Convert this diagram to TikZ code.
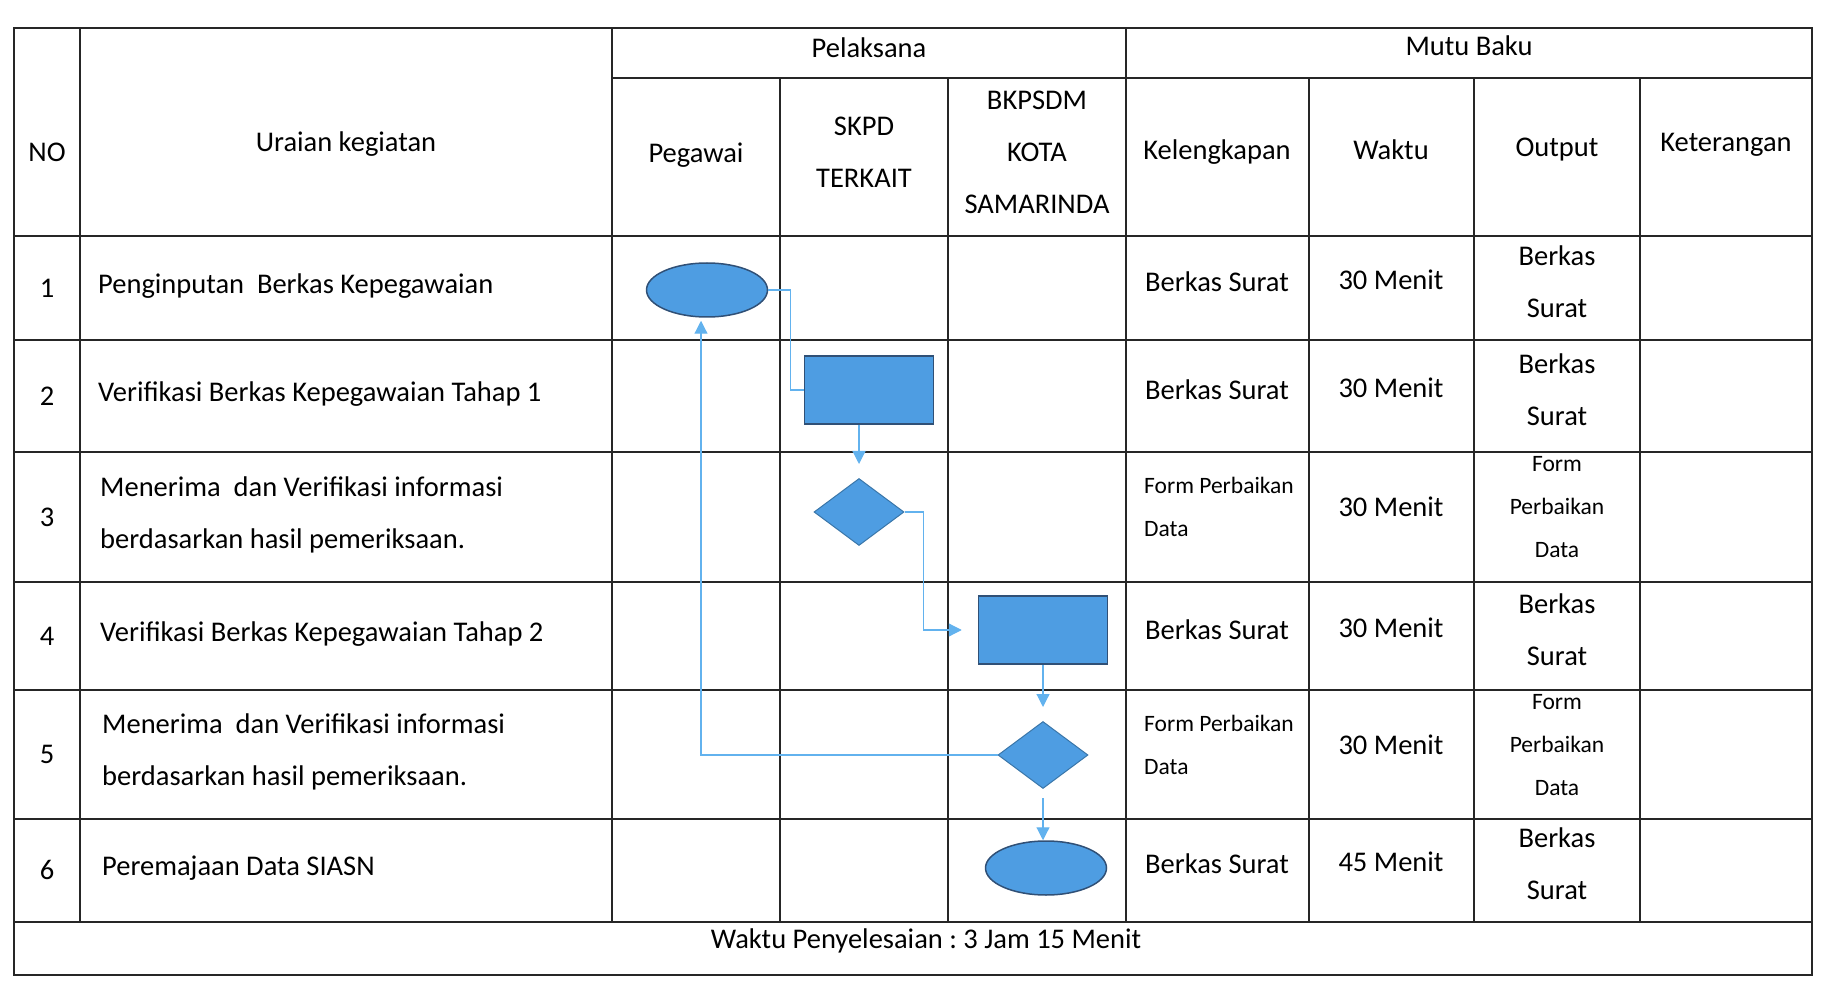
\documentclass[tikz,border=0pt]{standalone}
\usepackage{fontspec}
\setmainfont{Carlito}
\usetikzlibrary{shapes.geometric, positioning, calc, arrows.meta}
\usepackage{xcolor}

\definecolor{shapeblue}{RGB}{78,157,226}
\definecolor{shapeedge}{RGB}{48,80,118}
\definecolor{lineblue}{RGB}{98,178,238}
\frenchspacing

\begin{document}
\begin{tikzpicture}[x=1pt, y=-1pt,
    grid/.style={line width=1.5pt, black!85},
    txt/.style={font=\fontsize{28.5}{52}\selectfont, align=center, inner sep=0pt},
    small/.style={font=\fontsize{23.5}{43}\selectfont, inner sep=0pt},
    proc/.style={rectangle, draw=shapeedge, fill=shapeblue, line width=1.5pt, minimum width=129pt, minimum height=68pt, inner sep=0pt},
    term/.style={ellipse, draw=shapeedge, fill=shapeblue, line width=1.5pt, minimum width=121pt, minimum height=54pt, inner sep=0pt},
    dec/.style={diamond, draw=shapeblue!75!black, fill=shapeblue, line width=1pt, minimum width=90pt, minimum height=67pt, inner sep=0pt},
    flow/.style={lineblue, line width=1.2pt, -{Triangle[length=13pt, width=13pt]}}
  ]
      \useasboundingbox (0,0) rectangle (1821,981);

      % table lines
      \draw[grid] (14,28) rectangle (1812,975);
      \foreach \y in {236,340,452,582,690,819,922}
        \draw[grid] (14,\y) -- (1812,\y);
      \draw[grid] (612,78) -- (1812,78);
      \foreach \x in {80,612,1126}
        \draw[grid] (\x,28) -- (\x,922);
      \foreach \x in {780,948,1309,1474,1640}
        \draw[grid] (\x,78) -- (\x,922);

      % header
      \node[txt] (hNo) at (47,152) {NO};
      \node[txt] (hUraian) at (346,144) {Uraian kegiatan};
      \node[txt] (hPelaksana) at (869,48) {Pelaksana};
      \node[txt] (hMutu) at (1469,46) {Mutu Baku};
      \node[txt] (hPegawai) at (696,155) {Pegawai};
      \node[txt] (hSkpd) at (864,152) {SKPD\\TERKAIT};
      \node[txt] (hBkpsdm) at (1037,152) {BKPSDM\\KOTA\\SAMARINDA};
      \node[txt] (hKeleng) at (1217,152) {Kelengkapan};
      \node[txt] (hWaktu) at (1391,150) {Waktu};
      \node[txt] (hOutput) at (1557,150) {Output};
      \node[txt] (hKet) at (1726,145) {Keterangan};

      % rows
      \foreach \n/\y in {1/288,2/396,3/517,4/636,5/754,6/870}
        \node[txt] (no\n) at (47,\y) {\n};
      \node[txt, anchor=west] (u1) at (98,286) {Penginputan\ \ Berkas Kepegawaian};
      \node[txt, anchor=west] (u2) at (98,394) {Verifikasi Berkas Kepegawaian Tahap 1};
      \node[txt, anchor=west, align=left] (u3) at (100,515) {Menerima\ \ dan Verifikasi informasi\\berdasarkan hasil pemeriksaan.};
      \node[txt, anchor=west] (u4) at (100,634) {Verifikasi Berkas Kepegawaian Tahap 2};
      \node[txt, anchor=west, align=left] (u5) at (102,752) {Menerima\ \ dan Verifikasi informasi\\berdasarkan hasil pemeriksaan.};
      \node[txt, anchor=west] (u6) at (102,868) {Peremajaan Data SIASN};

      % mutu baku
      \foreach \n/\y in {1/282,2/390,4/630,6/864} {
        \node[txt] (k\n) at (1217,\y) {Berkas Surat};
        \node[txt] (o\n) at (1557,\y) {Berkas\\Surat};
      }
      \foreach \n/\y in {3/507,5/745} {
        \node[small, anchor=west, align=left] (k\n) at (1144,\y) {Form Perbaikan\\Data};
        \node[small, align=center] (o\n) at (1557,\y) {Form\\Perbaikan\\Data};
      }
      \foreach \n/\y/\m in {1/280/30,2/388/30,3/507/30,4/628/30,5/745/30,6/862/45}
        \node[txt] (w\n) at (1391,\y) {\m{} Menit};

      \node[txt] (total) at (926,941) {Waktu Penyelesaian : 3 Jam 15 Menit};

      % flow
      \node[term] (e1) at (707,290) {};
      \node[proc] (p2) at (869,390) {};
      \node[dec] (d3) at (859,512) {};
      \node[proc] (p4) at (1043,630) {};
      \node[dec] (d5) at (1043,755) {};
      \node[term] (e6) at (1046,868) {};

      \draw[lineblue, line width=1.2pt] (e1.east) -- ++(22,0) |- (p2.west);
      \draw[flow, shorten >=14pt] (d3.north |- p2.south) -- (d3.north);
      \draw[flow, shorten >=16pt] (d3.east) -- ++(19,0) |- (p4.west);
      \draw[flow, shorten >=14pt] (p4.south) -- (d5.north);
      \draw[flow, shorten >=3pt] (d5.west) -| ([xshift=-6pt]e1.south);
      \draw[flow, shorten <=9pt] (d5.south) -- (d5.south |- e6.north);

    \end{tikzpicture}
\end{document}
